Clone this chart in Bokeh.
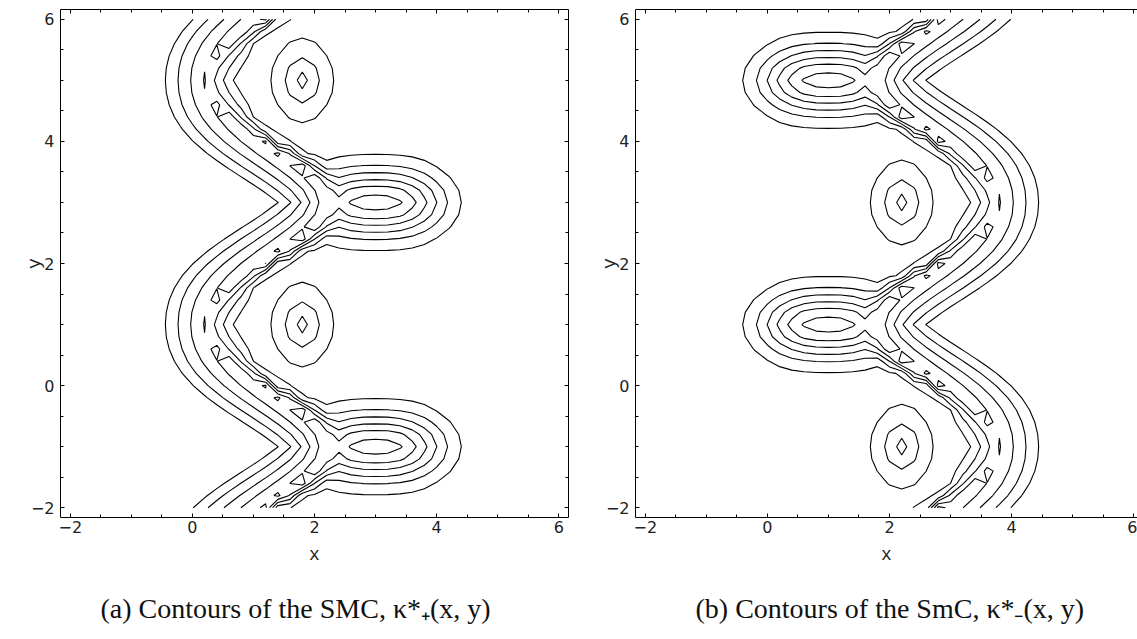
import numpy as np
from bokeh.plotting import figure
from bokeh.plotting.contour import contour_data
from bokeh.models import FixedTicker, LinearAxis, Range1d, Label
from bokeh.layouts import row, column
from bokeh.embed import file_html
from bokeh.resources import INLINE

# ---------------- values ----------------
major_ticks = [-2, 0, 2, 4, 6]
minor_ticks = [-2.0, -1.5, -1.0, -0.5, 0.0, 0.5, 1.0, 1.5, 2.0,
               2.5, 3.0, 3.5, 4.0, 4.5, 5.0, 5.5, 6.0]
tick_labels = ["\u22122", "0", "2", "4", "6"]
plot_range = [-2.16, 6.16]
domain = [-2.0, 6.0]          # sampled region of the contour field
grid_points = 41              # coarse sampling, like the original

# ridge curve  x = ridge_centre - ridge_amplitude * sin(2*pi*y/ridge_period)
ridge_centre = 1.2
ridge_amplitude = 1.0
ridge_period = 4.0
crest_height = [0.50, 0.09, 0.04]     # mean, bend-to-bend change, extra on the diagonals
band_half_width_left = 0.85
band_half_width_right = [0.12, 0.48]  # steep on the diagonals, wide at the bends
shoulder = [0.16, 0.6]                # low outer shoulder on the right side
lobe_centre = [3.0, 3.0]              # elongated maxima at the right bends
lobe_peak = 0.66
lobe_size = [1.1, 0.55]
lobe_power = [2.6, 1.8]
island_centre = [1.8, 1.0]            # small closed islands at the left bends
island_peak = 0.34
island_size = [0.32, 0.44]
contour_levels = [0.1, 0.2, 0.3, 0.4, 0.5, 0.6]
mirror_centre = [2.0, 2.0]            # panel (b) is panel (a) turned about this point

captions = ["(a) Contours of the SMC, \u03ba*\u208a(x, y)",
            "(b) Contours of the SmC, \u03ba*\u208b(x, y)"]


def field(X, Y):
    yc = np.linspace(domain[0] - 3, domain[1] + 3, 1500)
    xc = ridge_centre - ridge_amplitude * np.sin(2 * np.pi * yc / ridge_period)
    px = X.ravel()[:, None]
    py = Y.ravel()[:, None]
    dist = np.sqrt(((px - xc[None, :]) ** 2 + (py - yc[None, :]) ** 2).min(axis=1)).reshape(X.shape)
    phase = np.sin(2 * np.pi * Y / ridge_period)
    xr = ridge_centre - ridge_amplitude * phase
    crest = crest_height[0] - crest_height[1] * phase + crest_height[2] * (1 - phase ** 2)
    w_right = band_half_width_right[0] + band_half_width_right[1] * phase ** 2
    left = X < xr
    w = np.where(left, band_half_width_left, w_right)
    band = crest * np.clip(1.0 - dist / w, 0.0, None)
    sh = np.where(left, 0.0, shoulder[0] * np.clip(1.0 - dist / shoulder[1], 0.0, None))
    band = np.maximum(band, sh)
    half = ridge_period / 2
    dyl = (Y - lobe_centre[1] + half) % ridge_period - half
    lobe = lobe_peak * np.exp(-np.abs((X - lobe_centre[0]) / lobe_size[0]) ** lobe_power[0]
                              - np.abs(dyl / lobe_size[1]) ** lobe_power[1])
    dyi = (Y - island_centre[1] + half) % ridge_period - half
    island = island_peak / (1 + ((X - island_centre[0]) / island_size[0]) ** 2 + (dyi / island_size[1]) ** 2)
    return np.maximum(np.maximum(band, lobe), island)


gx = np.linspace(domain[0], domain[1], grid_points)
gy = np.linspace(domain[0], domain[1], grid_points)
GX, GY = np.meshgrid(gx, gy)
Z_a = field(GX, GY)
Z_b = field(2 * mirror_centre[0] - GX, 2 * mirror_centre[1] - GY)


def style_axis(ax, labels=True):
    ax.ticker = FixedTicker(ticks=major_ticks, minor_ticks=minor_ticks)
    ax.major_tick_in = 4
    ax.major_tick_out = 0
    ax.minor_tick_in = 3
    ax.minor_tick_out = 0
    ax.axis_line_color = "black"
    ax.major_tick_line_color = "black"
    ax.minor_tick_line_color = "black"
    if labels:
        ax.major_label_overrides = {t: s for t, s in zip(major_ticks, tick_labels)}
        ax.major_label_text_font = "DejaVu Sans"
        ax.major_label_text_font_size = "16px"
        ax.major_label_text_color = "#222222"
        ax.axis_label_text_font = "Liberation Mono"
        ax.axis_label_text_font_size = "18px"
        ax.axis_label_text_font_style = "normal"
        ax.axis_label_text_color = "#222222"
    else:
        ax.major_label_overrides = {t: "" for t in major_ticks}
        ax.major_label_text_font_size = "0px"
        ax.major_label_standoff = 0


def make_panel(Z, width, x_end, right_axis):
    p = figure(width=width, height=575,
               x_range=Range1d(plot_range[0], x_end),
               y_range=Range1d(plot_range[0], plot_range[1]),
               output_backend="svg", toolbar_location=None,
               min_border_left=60, min_border_right=(7 if right_axis else 0),
               min_border_top=9, min_border_bottom=58)
    p.grid.visible = False
    p.outline_line_color = None
    p.background_fill_color = "white"
    p.border_fill_color = "white"

    style_axis(p.xaxis[0])
    style_axis(p.yaxis[0])
    p.xaxis[0].axis_label = "x"
    p.yaxis[0].axis_label = "y"
    p.xaxis[0].major_label_standoff = 3
    p.yaxis[0].major_label_standoff = 6
    p.xaxis[0].axis_label_standoff = 9
    p.yaxis[0].axis_label_standoff = -17

    top = LinearAxis()
    style_axis(top, labels=False)
    p.add_layout(top, "above")
    if right_axis:
        rt = LinearAxis()
        style_axis(rt, labels=False)
        p.add_layout(rt, "right")

    cd = contour_data(gx, gy, Z, contour_levels, want_fill=False, want_line=True)
    p.multi_line(xs=list(cd.line_data.xs), ys=list(cd.line_data.ys),
                 line_color="black", line_width=1.1)
    return p


def make_caption(width, text, left):
    c = figure(width=width, height=64, x_range=Range1d(0, 1), y_range=Range1d(0, 1),
               x_axis_type=None, y_axis_type=None,
               output_backend="svg", toolbar_location=None, min_border=0)
    c.grid.visible = False
    c.outline_line_color = None
    c.add_layout(Label(x=left, y=31, x_units="screen", y_units="screen",
                       text=text, text_baseline="alphabetic", text_align="left",
                       text_font="Liberation Serif", text_font_size="28px",
                       text_font_style="normal", text_color="#111111"))
    return c


frame_scale = 508 / (plot_range[1] - plot_range[0])
p1 = make_panel(Z_a, 575, plot_range[1], True)
p2 = make_panel(Z_b, 562, plot_range[0] + 502 / frame_scale, False)
c1 = make_caption(575, captions[0], 100)
c2 = make_caption(562, captions[1], 120)

layout = column(row(p1, p2), row(c1, c2))
open("out.html", "w").write(file_html(layout, INLINE))
